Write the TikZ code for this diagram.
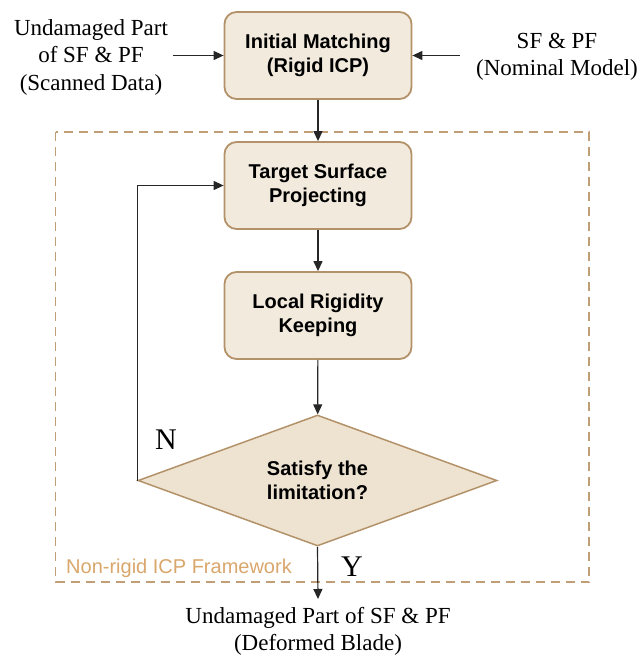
\documentclass[tikz,border=0pt]{standalone}
\usepackage{fontspec}
\setmainfont{Liberation Serif}
\setsansfont{Liberation Sans}
\usetikzlibrary{shapes.geometric, arrows.meta}

\definecolor{boxfill}{HTML}{F2EBDD}
\definecolor{difill}{HTML}{EEE3D0}
\definecolor{boxline}{HTML}{B39269}
\definecolor{framecol}{HTML}{C09E76}
\definecolor{labelcol}{HTML}{D9A66C}

\tikzset{
    procbox/.style={draw=boxline, fill=boxfill, line width=1.8pt, rounded corners=12pt,
        minimum width=187pt, minimum height=87pt, align=center,
        font=\sffamily\bfseries\fontsize{20}{24}\selectfont},
    checkbox/.style={draw=boxline, fill=difill, line width=1.5pt, diamond, aspect=2.74,
        minimum width=359pt, minimum height=131pt, inner sep=0pt, align=center,
        font=\sffamily\bfseries\fontsize{20}{24}\selectfont},
    iotext/.style={align=center, font=\rmfamily\fontsize{23}{27.5}\selectfont},
    yntext/.style={inner sep=0pt, font=\rmfamily\fontsize{30}{30}\selectfont},
    arr/.style={-{Triangle[length=10pt, width=9pt]}, line width=1.2pt, black!85}
}

\begin{document}
\begin{tikzpicture}[x=1pt, y=-1pt]
    \useasboundingbox (0,0) rectangle (644,661);

    % Framework
    \draw[framecol, line width=1.6pt, dash pattern=on 9pt off 6pt] (55.5,132) rectangle (589,582);
    \node[anchor=base west, inner sep=0pt, text=labelcol, font=\sffamily\fontsize{20}{24}\selectfont]
        (fwlabel) at (66,573) {Non-rigid ICP Framework};

    % Steps
    \node[procbox] (init) at (318,55.5) {Initial Matching\\(Rigid ICP)};
    \node[procbox] (proj) at (318,185.5) {Target Surface\\Projecting};
    \node[procbox] (keep) at (318,315.5) {Local Rigidity\\Keeping};
    \node[checkbox] (check) at (317.5,480.5) {Satisfy the\\limitation?};

    % Inputs and output
    \node[iotext, inner sep=5pt] (scan) at (91,57) {Undamaged Part\\of SF \& PF\\(Scanned Data)};
    \node[iotext, inner sep=16pt] (nominal) at (557,57) {SF \& PF\\(Nominal Model)};
    \node[iotext, anchor=north, inner sep=8pt] (blade) at (318,599) {Undamaged Part of SF \& PF\\(Deformed Blade)};

    % Connectors
    \draw[arr] (scan.east |- init) -- (init.west);
    \draw[arr] (nominal.west |- init) -- (init.east);
    \draw[arr] (init) -- (proj);
    \draw[arr] (proj) -- (keep);
    \draw[arr] (keep) -- (check);
    \draw[arr] (check.south) -- (blade.north);
    \draw[arr] (check.west) |- (proj.west);

    % Labels
    \node[yntext] (no) at (166,440) {N};
    \node[yntext] (yes) at (352,567) {Y};

\end{tikzpicture}
\end{document}
